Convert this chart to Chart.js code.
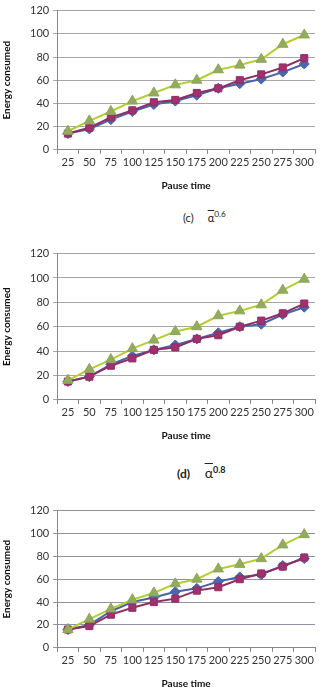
<!DOCTYPE html>
<html>
  <head>
    <title>Energy consumed vs pause time</title>
    <script src="https://cdn.jsdelivr.net/npm/chart.js"></script>
    <style>
      body {
        margin: 0;
        background: #fff;
        font-family: Lato, Arial, sans-serif;
        color: #222;
      }
      .page {
        position: relative;
        width: 322px;
        height: 687px;
        overflow: hidden;
      }
      .chart-box {
        position: absolute;
        left: 0;
        width: 322px;
      }
      .caption {
        position: absolute;
        white-space: nowrap;
        color: #222;
      }
      .caption sup {
        font-size: 75%;
      }
      .alpha {
        text-decoration: overline;
      }
    </style>
  </head>
  <body>
    <div class="page">
      <div class="chart-box" style="top:0;height:196px"><canvas id="chartC"></canvas></div>
      <div class="caption" style="left:183px;top:209px;font-size:11px">(c)&nbsp;&nbsp;&nbsp;&nbsp;&nbsp;<span class="alpha">α</span><sup>0.6</sup></div>
      <div class="chart-box" style="top:243px;height:203px"><canvas id="chartD"></canvas></div>
      <div class="caption" style="left:177px;top:464px;font-size:12px;font-weight:bold">(d)&nbsp;&nbsp;&nbsp;&nbsp;&nbsp;<span class="alpha" style="font-weight:normal;font-size:14px">α</span><sup>0.8</sup></div>
      <div class="chart-box" style="top:500px;height:194px"><canvas id="chartE"></canvas></div>
    </div>

    <script>
      // Pause time categories
      const pauseTimes = ['25', '50', '75', '100', '125', '150', '175', '200', '225', '250', '275', '300'];

      // (top) chart
      const topBlue    = [14, 18, 26, 33, 39, 42, 47, 53, 57, 61, 67, 74];
      const topMagenta = [14, 19, 28, 34, 41, 43, 49, 53, 60, 65, 71, 79];
      const topGreen   = [16, 25, 33, 42, 49, 56, 60, 69, 73, 78, 91, 99];

      // (c) alpha 0.6
      const cBlue    = [15, 19, 29, 36, 41, 45, 50, 55, 60, 62, 70, 76];
      const cMagenta = [15, 19, 28, 34, 41, 43, 50, 53, 60, 65, 71, 79];
      const cGreen   = [16, 25, 33, 42, 49, 56, 60, 69, 73, 78, 90, 99];

      // (d) alpha 0.8
      const dBlue    = [16, 20, 32, 40, 44, 49, 52, 58, 62, 64, 72, 78];
      const dMagenta = [16, 19, 29, 35, 40, 43, 50, 53, 60, 65, 71, 79];
      const dGreen   = [16, 25, 34, 42, 48, 56, 60, 69, 73, 78, 90, 99];

      const yTicks = [0, 20, 40, 60, 80, 100, 120];

      function makeChart(id, blue, magenta, green, gridColor) {
        const ctx = document.getElementById(id).getContext('2d');
        new Chart(ctx, {
          type: 'line',
          data: {
            labels: pauseTimes,
            datasets: [
              {
                label: 'Series1',
                data: blue,
                borderColor: '#4a62a8',
                backgroundColor: '#4a66ae',
                pointStyle: 'rectRot',
                pointRadius: 5,
                borderWidth: 2,
                pointBorderWidth: 1
              },
              {
                label: 'Series2',
                data: magenta,
                borderColor: '#8e2f63',
                backgroundColor: '#a3306e',
                pointStyle: 'rect',
                pointRadius: 5,
                borderWidth: 2,
                pointBorderWidth: 1
              },
              {
                label: 'Series3',
                data: green,
                borderColor: '#b2cf30',
                backgroundColor: '#92ac5c',
                pointBorderColor: '#8da55a',
                pointStyle: 'triangle',
                pointRadius: 6,
                borderWidth: 2,
                pointBorderWidth: 1
              }
            ].reverse()
          },
          options: {
            responsive: true,
            maintainAspectRatio: false,
            animation: false,
            layout: { padding: { top: 3, right: 2, left: 0, bottom: 0 } },
            plugins: {
              legend: { display: false },
              tooltip: { enabled: false }
            },
            scales: {
              x: {
                offset: true,
                grid: {
                  offset: true,
                  drawOnChartArea: false,
                  color: '#888',
                  tickLength: 4
                },
                border: { color: '#888' },
                ticks: {
                  color: '#333',
                  font: { family: 'Lato', size: 11 },
                  maxRotation: 0,
                  autoSkip: false,
                  padding: 2
                },
                title: {
                  display: true,
                  text: 'Pause time',
                  color: '#111',
                  font: { family: 'Lato', size: 10, weight: 'bold' },
                  padding: { top: 9 }
                }
              },
              y: {
                min: 0,
                max: 120,
                afterBuildTicks: (axis) => {
                  axis.ticks = yTicks.map(v => ({ value: v }));
                },
                grid: {
                  color: gridColor,
                  tickLength: 4
                },
                border: { color: '#888' },
                ticks: {
                  color: '#333',
                  font: { family: 'Lato', size: 11 },
                  padding: 4
                },
                title: {
                  display: true,
                  text: 'Energy consumed',
                  color: '#111',
                  font: { family: 'Lato', size: 10, weight: 'bold' },
                  padding: { top: 1, bottom: 13 }
                }
              }
            }
          }
        });
      }

      makeChart('chartC', topBlue, topMagenta, topGreen, '#a6a6a6');
      makeChart('chartD', cBlue, cMagenta, cGreen, '#a6a6a6');
      makeChart('chartE', dBlue, dMagenta, dGreen, '#8f8fa8');
    </script>
  </body>
</html>
